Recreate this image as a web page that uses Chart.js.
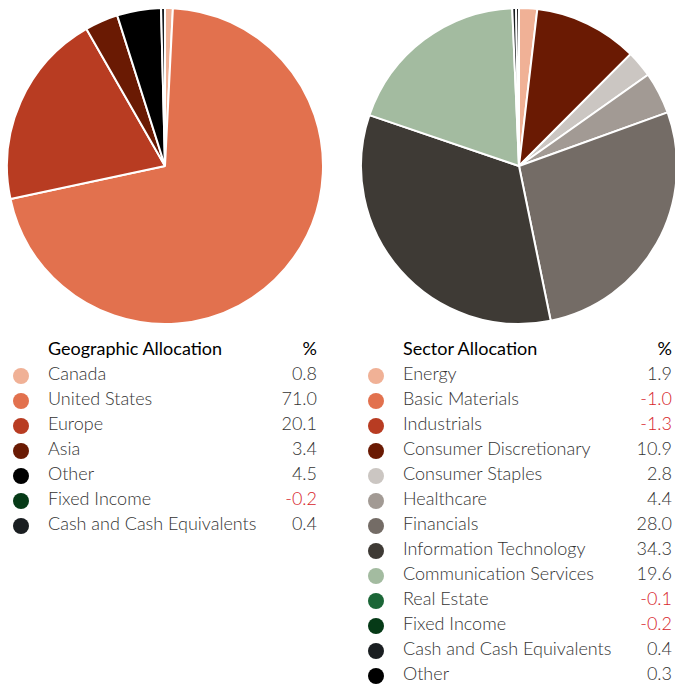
<!DOCTYPE html>
<html>
<head>
<meta charset="utf-8">
<script src="https://cdn.jsdelivr.net/npm/chart.js@4/dist/chart.umd.min.js"></script>
<style>
  html, body { margin:0; padding:0; background:#fff; width:675px; height:686px; overflow:hidden; }
  body { position:relative; font-family: Lato, "DejaVu Sans", sans-serif; }
  .pie { position:absolute; top:7px; width:318px; height:318px; }
  .legend { position:absolute; top:336px; font-size:18px; }
  .legend table { border-collapse:collapse; }
  .legend td { padding:0; height:25px; line-height:25px; white-space:nowrap; color:#333; font-weight:300; }
  .legend th { height:25px; line-height:25px; font-weight:400; color:#000; text-align:left; padding:0; }
  .legend .dot { width:16px; height:16px; border-radius:50%; display:inline-block; vertical-align:middle; }
  .legend .val { text-align:right; }
  .legend .neg { color:#d7262c; }
</style>
</head>
<body>
<div class="pie" style="left:6px;"><canvas id="geo"></canvas></div>
<div class="pie" style="left:360px;"><canvas id="sec"></canvas></div>
<div class="legend" id="geoLegend" style="left:13px; width:304px;"></div>
<div class="legend" id="secLegend" style="left:368px; width:304px;"></div>
<script>
const geoCategories = ["Canada","United States","Europe","Asia","Other","Fixed Income","Cash and Cash Equivalents"];
const geoValues = [0.8, 71.0, 20.1, 3.4, 4.5, -0.2, 0.4];
const geoColors = ["#F0B196","#E2714E","#B83C22","#6A1A03","#000000","#063A17","#1A1E21"];

const secCategories = ["Energy","Basic Materials","Industrials","Consumer Discretionary","Consumer Staples","Healthcare","Financials","Information Technology","Communication Services","Real Estate","Fixed Income","Cash and Cash Equivalents","Other"];
const secValues = [1.9, -1.0, -1.3, 10.9, 2.8, 4.4, 28.0, 34.3, 19.6, -0.1, -0.2, 0.4, 0.3];
const secColors = ["#F0B196","#E2714E","#B83C22","#6A1A03","#CBC6C2","#A29A94","#746C66","#3E3A35","#A3BBA0","#1B6637","#063A17","#1A1E21","#000000"];

function makePie(id, labels, values, colors) {
  new Chart(document.getElementById(id), {
    type: 'pie',
    data: {
      labels: labels,
      datasets: [{
        data: values.map(v => Math.max(0, v)),
        backgroundColor: colors,
        borderColor: '#ffffff',
        borderWidth: 2
      }]
    },
    options: {
      responsive: true,
      maintainAspectRatio: false,
      animation: false,
      layout: { padding: 0 },
      plugins: { legend: { display: false }, tooltip: { enabled: false } }
    }
  });
}
makePie('geo', geoCategories, geoValues, geoColors);
makePie('sec', secCategories, secValues, secColors);

function makeLegend(id, title, labels, values, colors) {
  let html = '<table style="width:100%"><tr><th style="width:35px"></th><th>' + title + '</th><th style="text-align:right">%</th></tr>';
  labels.forEach((l, i) => {
    const v = values[i];
    html += '<tr><td><span class="dot" style="background:' + colors[i] + '"></span></td><td>' + l +
      '</td><td class="val' + (v < 0 ? ' neg' : '') + '">' + (v < 0 ? '-' : '') + Math.abs(v).toFixed(1) + '</td></tr>';
  });
  html += '</table>';
  document.getElementById(id).innerHTML = html;
}
makeLegend('geoLegend', 'Geographic Allocation', geoCategories, geoValues, geoColors);
makeLegend('secLegend', 'Sector Allocation', secCategories, secValues, secColors);
</script>
</body>
</html>
